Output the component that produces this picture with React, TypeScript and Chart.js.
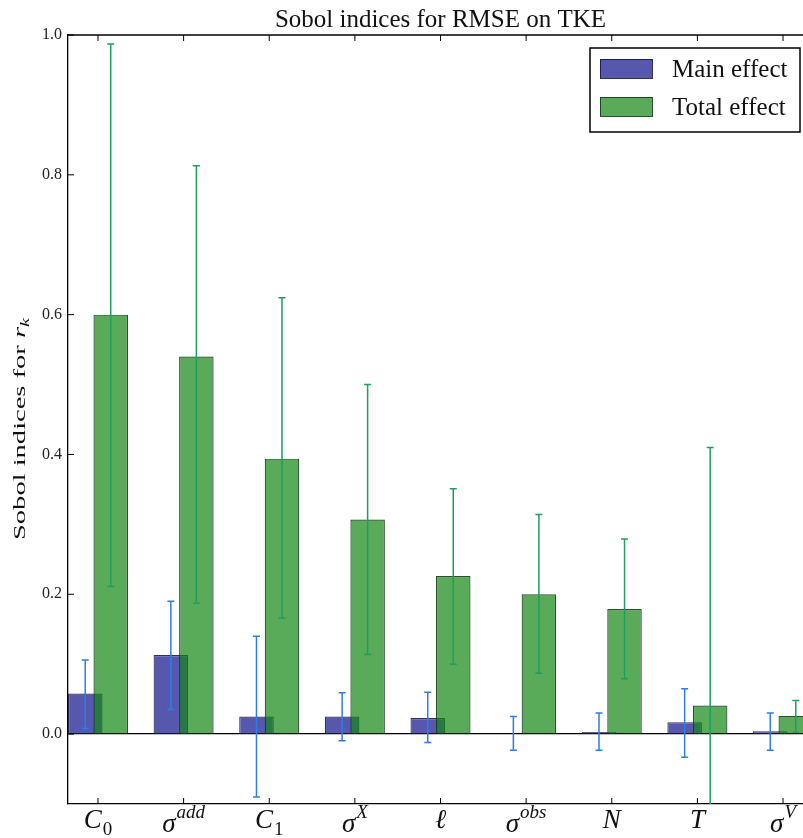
import { useEffect, useRef } from "react";
import { Chart, registerables } from "chart.js";
Chart.register(...registerables);

// ---- data ----
const tickBase = ["C", "σ", "C", "σ", "ℓ", "σ", "N", "T", "σ"];
const tickSub = ["0", "", "1", "", "", "", "", "", ""];
const tickSup = ["", "add", "", "X", "", "obs", "", "", "V"];

const mainEffect = [0.058, 0.113, 0.025, 0.025, 0.023, 0.001, 0.003, 0.017, 0.004];
const mainLow = [0.008, 0.035, -0.09, -0.0095, -0.012, -0.023, -0.023, -0.033, -0.023];
const mainHigh = [0.106, 0.19, 0.14, 0.059, 0.06, 0.025, 0.03, 0.065, 0.03];

const totalEffect = [0.6, 0.54, 0.394, 0.307, 0.226, 0.2, 0.179, 0.041, 0.026];
const totalLow = [0.211, 0.187, 0.166, 0.114, 0.1, 0.087, 0.079, -0.33, 0.0025];
const totalHigh = [0.987, 0.813, 0.624, 0.5, 0.351, 0.314, 0.279, 0.41, 0.048];

const yTicks = [0, 0.2, 0.4, 0.6, 0.8, 1.0];
const seriesNames = ["Main effect", "Total effect"];
const titleText = "Sobol indices for RMSE on TKE";
const yLabelText = "Sobol indices for ";
const yLabelVar = "r";
const yLabelSub = "k";

const SERIF = "'Liberation Serif', 'Times New Roman', serif";
const MAIN_FILL = "#5658ad";
const MAIN_EDGE = "rgba(25,25,70,0.9)";
const TOTAL_FILL = "rgba(18,136,18,0.7)";
const TOTAL_EDGE = "rgba(20,60,25,0.9)";
const MAIN_ERR = "#2f7de1";
const TOTAL_ERR = "#1f9e5e";

export default function App() {
  const ref = useRef<HTMLCanvasElement>(null);

  useEffect(() => {
    document.body.style.margin = "0";
    const canvas = ref.current!;

    const decor = {
      id: "sobolDecor",
      beforeDatasetDraw(_chart: any, args: any) {
        if (args.index === 1) return false;
      },
      afterDatasetsDraw(chart: any) {
        const { ctx, chartArea } = chart;
        const y = chart.scales.y;
        ctx.save();
        ctx.beginPath();
        ctx.rect(chartArea.left, chartArea.top, chartArea.right - chartArea.left, chartArea.bottom - chartArea.top);
        ctx.clip();
        // total effect bars drawn on top of main effect bars
        chart.getDatasetMeta(1).controller.draw();

        const cap = 3.5;
        const drawErr = (idx: number, lows: number[], highs: number[], color: string) => {
          const meta = chart.getDatasetMeta(idx);
          ctx.strokeStyle = color;
          ctx.lineWidth = 1.5;
          meta.data.forEach((el: any, i: number) => {
            const x = el.x;
            const yl = y.getPixelForValue(lows[i]);
            const yh = y.getPixelForValue(highs[i]);
            ctx.beginPath();
            ctx.moveTo(x, yl);
            ctx.lineTo(x, yh);
            ctx.moveTo(x - cap, yl);
            ctx.lineTo(x + cap, yl);
            ctx.moveTo(x - cap, yh);
            ctx.lineTo(x + cap, yh);
            ctx.stroke();
          });
        };
        drawErr(1, totalLow, totalHigh, TOTAL_ERR);
        drawErr(0, mainLow, mainHigh, MAIN_ERR);
        ctx.restore();
      },
      afterDraw(chart: any) {
        const { ctx, chartArea } = chart;
        const xs = chart.scales.x;
        const ys = chart.scales.y;
        ctx.save();
        // top spine
        ctx.strokeStyle = "#000";
        ctx.lineWidth = 1.3;
        ctx.beginPath();
        ctx.moveTo(chartArea.left, chartArea.top);
        ctx.lineTo(chartArea.right, chartArea.top);
        ctx.stroke();
        // inward ticks
        ctx.lineWidth = 1;
        ctx.beginPath();
        tickBase.forEach((_, i) => {
          const x = xs.getPixelForValue(i);
          ctx.moveTo(x, chartArea.top);
          ctx.lineTo(x, chartArea.top + 6);
          ctx.moveTo(x, chartArea.bottom);
          ctx.lineTo(x, chartArea.bottom - 6);
        });
        yTicks.forEach((v) => {
          const yy = ys.getPixelForValue(v);
          ctx.moveTo(chartArea.left, yy);
          ctx.lineTo(chartArea.left + 6, yy);
        });
        ctx.stroke();

        // x tick labels with sub/superscripts
        ctx.fillStyle = "#111";
        ctx.textBaseline = "alphabetic";
        ctx.textAlign = "left";
        const baseFont = `italic 27px ${SERIF}`;
        const smallItalic = `italic 19px ${SERIF}`;
        const smallUpright = `19px ${SERIF}`;
        tickBase.forEach((b, i) => {
          const x = xs.getPixelForValue(i);
          ctx.font = baseFont;
          const wb = ctx.measureText(b).width;
          let ws = 0;
          let small = "";
          let smallFont = smallItalic;
          if (tickSub[i]) {
            small = tickSub[i];
            smallFont = /^[0-9]+$/.test(small) ? smallUpright : smallItalic;
          } else if (tickSup[i]) {
            small = tickSup[i];
          }
          if (small) {
            ctx.font = smallFont;
            ws = ctx.measureText(small).width + 1;
          }
          const start = x - (wb + ws) / 2;
          const hasSup = !!tickSup[i];
          const baseY = hasSup ? chartArea.bottom + 28 : chartArea.bottom + 24;
          ctx.font = baseFont;
          ctx.fillText(b, start, baseY);
          if (small) {
            ctx.font = smallFont;
            const sy = hasSup ? baseY - 14 : baseY + 7;
            ctx.fillText(small, start + wb + 1, sy);
          }
        });

        // y axis label (rotated)
        ctx.save();
        const f1 = `17px ${SERIF}`;
        const f2 = `italic 17px ${SERIF}`;
        const f3 = `italic 12px ${SERIF}`;
        ctx.font = f1;
        const w1 = ctx.measureText(yLabelText).width;
        ctx.font = f2;
        const w2 = ctx.measureText(yLabelVar).width;
        ctx.font = f3;
        const w3 = ctx.measureText(yLabelSub).width;
        const total = w1 + w2 + w3;
        const stretch = 222 / total;
        ctx.translate(25, 429);
        ctx.rotate(-Math.PI / 2);
        ctx.scale(stretch, 1);
        let cx = -total / 2;
        ctx.font = f1;
        ctx.fillText(yLabelText, cx, 0);
        cx += w1;
        ctx.font = f2;
        ctx.fillText(yLabelVar, cx, 0);
        cx += w2;
        ctx.font = f3;
        ctx.fillText(yLabelSub, cx, 4);
        ctx.restore();

        // legend
        const lx = 590, ly = 48, lw = 210, lh = 84;
        ctx.fillStyle = "#fff";
        ctx.fillRect(lx, ly, lw, lh);
        ctx.strokeStyle = "#000";
        ctx.lineWidth = 1.5;
        ctx.strokeRect(lx, ly, lw, lh);
        const sw = [
          { fill: MAIN_FILL, edge: MAIN_EDGE, y: 59 },
          { fill: TOTAL_FILL, edge: TOTAL_EDGE, y: 97 },
        ];
        ctx.font = `25px ${SERIF}`;
        sw.forEach((s, k) => {
          ctx.fillStyle = s.fill;
          ctx.fillRect(600, s.y, 52, 19);
          ctx.strokeStyle = s.edge;
          ctx.lineWidth = 1;
          ctx.strokeRect(600.5, s.y + 0.5, 52, 19);
          ctx.fillStyle = "#111";
          ctx.fillText(seriesNames[k], 672, s.y + 18);
        });
        ctx.restore();
      },
    };

    const chart = new Chart(canvas, {
      type: "bar",
      data: {
        datasets: [
          {
            label: seriesNames[0],
            data: mainEffect.map((v, i) => ({ x: i, y: v })),
            backgroundColor: MAIN_FILL,
            borderColor: MAIN_EDGE,
            borderWidth: 1.2,
          },
          {
            label: seriesNames[1],
            data: totalEffect.map((v, i) => ({ x: i, y: v })),
            backgroundColor: TOTAL_FILL,
            borderColor: TOTAL_EDGE,
            borderWidth: 1.2,
          },
        ],
      },
      options: {
        responsive: false,
        animation: false,
        devicePixelRatio: 1,
        categoryPercentage: 0.596,
        barPercentage: 1.353,
        layout: { padding: { left: 8, right: 7, top: 0, bottom: 0 } },
        plugins: {
          legend: { display: false },
          tooltip: { enabled: false },
          title: {
            display: true,
            text: titleText,
            fullSize: false,
            color: "#111",
            font: { family: SERIF, size: 25, weight: "normal" },
            padding: { top: 5, bottom: 0 },
          },
        },
        scales: {
          x: {
            type: "linear",
            offset: false,
            min: -0.35,
            max: 8.35,
            afterBuildTicks: (scale: any) => {
              scale.ticks = tickBase.map((_, i) => ({ value: i }));
            },
            afterFit: (scale: any) => {
              scale.height = 34;
            },
            ticks: { display: false },
            grid: { display: false, drawTicks: false, offset: false },
            border: { display: true, color: "#000", width: 1.3 },
          },
          y: {
            type: "linear",
            min: -0.1,
            max: 1.0,
            afterBuildTicks: (scale: any) => {
              scale.ticks = yTicks.map((v) => ({ value: v }));
            },
            afterFit: (scale: any) => {
              scale.width = 60;
            },
            ticks: {
              padding: 6,
              color: "#222",
              font: { family: SERIF, size: 16 },
              callback: (v: any) => Number(v).toFixed(1),
            },
            grid: {
              drawTicks: false,
              color: (c: any) => (c.tick && c.tick.value === 0 ? "#000" : "rgba(0,0,0,0)"),
              lineWidth: 1.3,
            },
            border: { display: true, color: "#000", width: 1.3 },
          },
        },
      },
      plugins: [decor],
    } as any);

    return () => chart.destroy();
  }, []);

  return (
    <div style={{ width: 803, height: 838, overflow: "hidden", position: "relative" }}>
      <canvas ref={ref} width={820} height={838} style={{ display: "block" }} />
    </div>
  );
}
